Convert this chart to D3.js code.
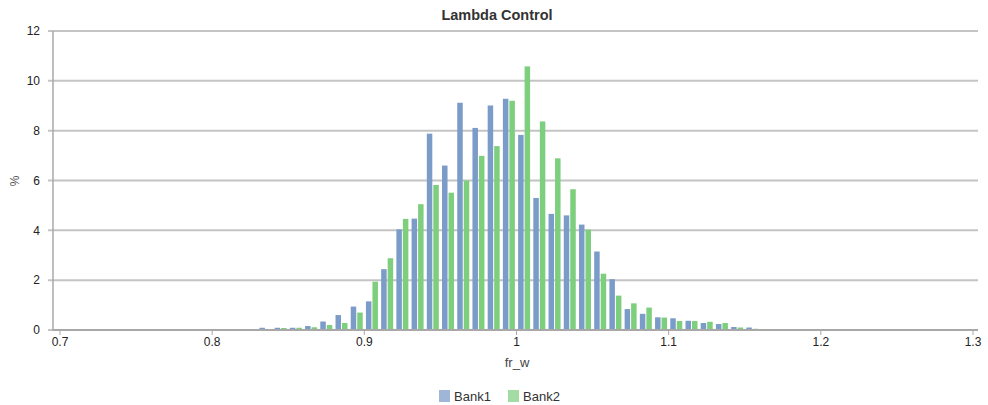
<!DOCTYPE html>
<html><head><meta charset="utf-8">
<script src="https://cdn.jsdelivr.net/npm/d3@7"></script>
<style>
body{margin:0;background:#fff;}
svg{display:block;font-family:"Liberation Sans",Arial,sans-serif;}
</style></head>
<body><svg id="c" width="988" height="405"></svg>
<script>
const bins = [0.815,0.825,0.835,0.845,0.855,0.865,0.875,0.885,0.895,0.905,
0.915,0.925,0.935,0.945,0.955,0.965,0.975,0.985,0.995,1.005,
1.015,1.025,1.035,1.045,1.055,1.065,1.075,1.085,1.095,1.105,
1.115,1.125,1.135,1.145,1.155,1.165];
const bank1 = [0.04,0.03,0.09,0.09,0.09,0.16,0.34,0.6,0.94,1.15,
2.44,4.04,4.47,7.88,6.6,9.12,8.11,9.01,9.28,7.83,
5.3,4.66,4.6,4.23,3.15,2.04,0.84,0.65,0.51,0.47,
0.37,0.28,0.24,0.12,0.1,0.04];
const bank2 = [0.03,0.03,0.04,0.08,0.09,0.11,0.2,0.28,0.7,1.94,
2.88,4.46,5.05,5.82,5.51,6.0,6.99,7.38,9.2,10.58,
8.37,6.89,5.65,4.03,2.26,1.38,1.07,0.9,0.5,0.36,
0.36,0.33,0.28,0.1,0.05,0.01];
const seriesNames = ["Bank1","Bank2"];
const xTicks = [0.7,0.8,0.9,1.0,1.1,1.2,1.3];
const yTicks = [0,2,4,6,8,10,12];
const title = "Lambda Control";
const xLabel = "fr_w";
const yLabel = "%";

const colors = ["#7b9cc8","#7dcf7d"];
const legendColors = ["#a0b6d6","#a3dca3"];

(function(){
const svg = d3.select("#c");
const pL = 53, pR = 978, pT = 31, pB = 330;
const x = d3.scaleLinear().domain([0.7,1.3]).range([60,973]);
const y = d3.scaleLinear().domain([0,12]).range([pB,pT]);

// gridlines
svg.append("g").selectAll("line").data(yTicks).join("line")
  .attr("x1",pL-5).attr("x2",pR)
  .attr("y1",d=>y(d)).attr("y2",d=>y(d))
  .attr("stroke","#c4c4c4").attr("stroke-width",2);

// y tick labels
svg.append("g").selectAll("text").data(yTicks).join("text")
  .attr("x",40).attr("y",d=>y(d)).attr("dy","0.35em")
  .attr("text-anchor","end").attr("font-size",12).attr("fill","#222")
  .text(d=>d);

// y axis line
svg.append("line").attr("x1",pL).attr("x2",pL).attr("y1",pT).attr("y2",pB+1)
  .attr("stroke","#a8a8a8").attr("stroke-width",1.5);

// bars
const bw = 6;
const series = [bank1,bank2];
series.forEach((vals,si)=>{
  svg.append("g").selectAll("rect").data(vals).join("rect")
    .attr("x",(d,i)=>x(bins[i]) + (si===0 ? -bw : 0.5))
    .attr("width",bw-0.5)
    .attr("y",d=>y(d))
    .attr("height",d=>pB - y(d))
    .attr("fill",colors[si]);
});

// x axis
svg.append("line").attr("x1",pL).attr("x2",pR).attr("y1",pB).attr("y2",pB)
  .attr("stroke","#a8a8a8").attr("stroke-width",2);
svg.append("g").selectAll("line").data(xTicks).join("line")
  .attr("x1",d=>x(d)).attr("x2",d=>x(d)).attr("y1",pB).attr("y2",pB+5)
  .attr("stroke","#a8a8a8").attr("stroke-width",1);
svg.append("g").selectAll("text").data(xTicks).join("text")
  .attr("x",d=>x(d)).attr("y",pB+16).attr("text-anchor","middle")
  .attr("font-size",12).attr("fill","#222")
  .text(d=>d===1?"1":d3.format(".1f")(d));

// titles
svg.append("text").attr("x",497).attr("y",20).attr("text-anchor","middle")
  .attr("font-size",14.5).attr("font-weight","bold").attr("fill","#333").text(title);
svg.append("text").attr("x",517).attr("y",367).attr("text-anchor","middle")
  .attr("font-size",13).attr("fill","#444").text(xLabel);
svg.append("text").attr("transform","translate(19,181) rotate(-90)").attr("text-anchor","middle")
  .attr("font-size",12).attr("fill","#555").text(yLabel);

// legend
const lg = svg.append("g");
const lx = [439,508];
seriesNames.forEach((n,i)=>{
  lg.append("rect").attr("x",lx[i]).attr("y",390).attr("width",11).attr("height",12).attr("fill",legendColors[i]);
  lg.append("text").attr("x",lx[i]+15).attr("y",401).attr("font-size",13).attr("fill","#333").text(n);
});
})();
</script></body></html>
